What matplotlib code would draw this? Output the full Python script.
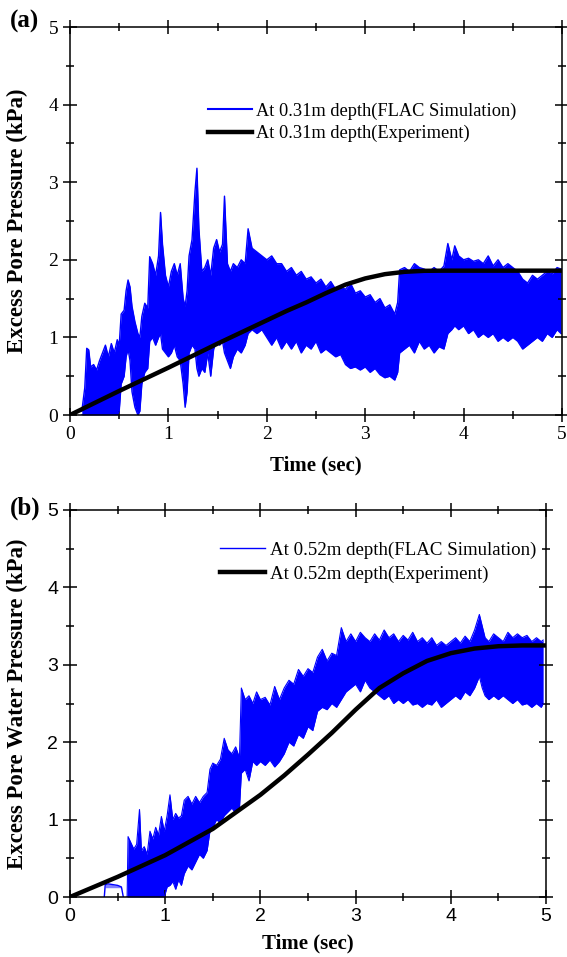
import matplotlib
matplotlib.use("Agg")
import matplotlib.pyplot as plt
from matplotlib.ticker import MultipleLocator

# ---------------- Panel (a) data ----------------
exp_a_t = [0, 0.5, 1, 1.5, 2, 2.2, 2.4, 2.6, 2.8, 3.0, 3.2, 3.4, 3.6, 3.8, 4, 5]
exp_a_v = [0, 0.31, 0.61, 0.92, 1.22, 1.34, 1.45, 1.57, 1.68, 1.76, 1.815, 1.845, 1.858, 1.86, 1.86, 1.86]

sim_a_t = [0.12, 0.15, 0.17, 0.19, 0.21, 0.24, 0.27, 0.30, 0.33, 0.36, 0.39, 0.42, 0.45, 0.48,
           0.50, 0.52, 0.55, 0.57, 0.59, 0.61, 0.63, 0.66, 0.69, 0.71, 0.73, 0.76, 0.79, 0.81,
           0.84, 0.87, 0.90, 0.92, 0.94, 0.97, 1.00, 1.03, 1.06, 1.09, 1.12, 1.15, 1.17, 1.19,
           1.21, 1.24, 1.27, 1.29, 1.31, 1.34, 1.37, 1.40, 1.43, 1.46, 1.49, 1.52, 1.55, 1.57,
           1.60, 1.63, 1.66, 1.70, 1.74, 1.78, 1.81, 1.85, 1.90, 1.95, 2.00, 2.05, 2.10, 2.15,
           2.20, 2.25, 2.30, 2.35, 2.40, 2.45, 2.50, 2.55, 2.60, 2.65, 2.70, 2.75, 2.80, 2.85,
           2.90, 2.95, 3.00, 3.05, 3.10, 3.15, 3.20, 3.25, 3.30, 3.33, 3.35, 3.40, 3.45, 3.50,
           3.55, 3.60, 3.65, 3.70, 3.75, 3.80, 3.84, 3.88, 3.91, 3.95, 4.00, 4.05, 4.10, 4.15,
           4.20, 4.25, 4.30, 4.35, 4.40, 4.45, 4.50, 4.55, 4.60, 4.65, 4.70, 4.75, 4.80, 4.85,
           4.90, 4.95, 4.99]
sim_a_lo = [0, 0, 0, 0, 0, 0, 0, 0, 0, 0, 0, 0, 0, 0,
            0.05, 0.40, 0.50, 0.75, 0.85, 0.70, 0.30, 0.10, 0.0, 0.05, 0.40, 0.55, 0.60, 0.95,
            1.00, 0.90, 1.00, 1.05, 0.85, 0.80, 0.75, 0.80, 0.90, 0.75, 0.70, 0.40, 0.10, 0.30,
            0.80, 0.90, 0.85, 0.60, 0.50, 0.60, 0.55, 0.80, 0.50, 0.85, 0.95, 0.90, 0.95, 0.80,
            0.70, 0.60, 0.75, 0.85, 0.80, 0.90, 1.05, 1.10, 1.05, 1.10, 1.00, 0.90, 1.00, 0.85,
            0.95, 0.85, 0.95, 0.80, 0.90, 0.85, 0.95, 0.80, 0.85, 0.80, 0.75, 0.78, 0.65, 0.60,
            0.62, 0.58, 0.62, 0.55, 0.60, 0.52, 0.48, 0.50, 0.45, 0.55, 0.80, 0.85, 0.90, 0.80,
            0.95, 0.85, 0.90, 0.80, 0.88, 0.85, 1.05, 1.10, 1.15, 1.10, 1.15, 1.05, 1.10, 1.00,
            1.05, 1.00, 1.05, 0.95, 1.00, 0.95, 1.00, 0.95, 0.85, 0.90, 0.95, 1.00, 0.95, 1.05,
            1.00, 1.10, 1.05]
sim_a_hi = [0.05, 0.35, 0.86, 0.84, 0.62, 0.65, 0.58, 0.70, 0.80, 0.90, 0.75, 0.92, 0.80, 0.97,
            0.90, 1.30, 1.35, 1.60, 1.74, 1.65, 1.40, 1.20, 1.05, 1.00, 1.27, 1.44, 1.38, 2.04,
            1.95, 1.80, 2.05, 2.61, 2.20, 1.80, 1.65, 1.85, 1.95, 1.80, 1.95, 1.50, 1.40, 1.60,
            2.05, 2.26, 2.88, 3.18, 2.40, 1.85, 1.90, 2.00, 1.80, 2.15, 2.26, 2.10, 2.20, 2.82,
            1.95, 1.85, 1.95, 1.90, 2.00, 1.95, 2.40, 2.15, 2.10, 2.05, 2.00, 2.05, 1.95, 1.95,
            1.85, 1.90, 1.80, 1.85, 1.75, 1.78, 1.70, 1.75, 1.65, 1.72, 1.62, 1.65, 1.62, 1.70,
            1.57, 1.60, 1.52, 1.55, 1.45, 1.50, 1.38, 1.42, 1.30, 1.45, 1.87, 1.90, 1.85, 1.95,
            1.90, 1.88, 1.85, 1.90, 1.85, 1.92, 2.21, 2.00, 2.18, 2.05, 2.00, 2.02, 1.98, 2.00,
            1.95, 2.05, 1.92, 2.00, 1.90, 1.95, 1.90, 1.85, 1.75, 1.70, 1.80, 1.75, 1.80, 1.85,
            1.82, 1.90, 1.88]

# ---------------- Panel (b) data ----------------
exp_b_t = [0, 0.5, 1, 1.5, 2, 2.25, 2.5, 2.75, 3, 3.25, 3.5, 3.75, 4, 4.25, 4.5, 4.75, 5]
exp_b_v = [0, 0.26, 0.54, 0.88, 1.32, 1.57, 1.84, 2.12, 2.42, 2.70, 2.89, 3.05, 3.15, 3.21, 3.24, 3.25, 3.25]

hump_b_t = [0.36, 0.37, 0.40, 0.45, 0.50, 0.54, 0.56]
hump_b_v = [0, 0.16, 0.17, 0.16, 0.15, 0.13, 0]

sim_b_t = [0.60, 0.61, 0.64, 0.67, 0.70, 0.73, 0.75, 0.78, 0.81, 0.84, 0.87, 0.90, 0.93, 0.96,
           0.99, 1.02, 1.05, 1.08, 1.11, 1.14, 1.17, 1.20, 1.24, 1.28, 1.32, 1.36, 1.40, 1.44,
           1.47, 1.50, 1.54, 1.58, 1.62, 1.66, 1.70, 1.74, 1.78, 1.80, 1.84, 1.88, 1.92, 1.96,
           2.00, 2.05, 2.10, 2.15, 2.20, 2.25, 2.30, 2.35, 2.40, 2.45, 2.50, 2.55, 2.60, 2.65,
           2.70, 2.75, 2.80, 2.85, 2.90, 2.95, 3.00, 3.05, 3.10, 3.15, 3.20, 3.25, 3.30, 3.35,
           3.40, 3.45, 3.50, 3.55, 3.60, 3.65, 3.70, 3.75, 3.80, 3.85, 3.90, 3.95, 4.00, 4.05,
           4.10, 4.15, 4.20, 4.25, 4.30, 4.33, 4.36, 4.40, 4.45, 4.50, 4.55, 4.60, 4.65, 4.70,
           4.75, 4.80, 4.85, 4.90, 4.95, 4.97]
sim_b_lo = [0, 0, 0, 0, 0, 0, 0, 0, 0, 0, 0, 0, 0, 0,
            0, 0.13, 0.15, 0.20, 0.10, 0.22, 0.15, 0.30, 0.40, 0.35, 0.45, 0.55, 0.50, 0.60,
            0.85, 0.90, 1.00, 0.95, 1.05, 1.10, 1.15, 1.08, 1.15, 1.60, 1.65, 1.50, 1.75, 1.70,
            1.75, 1.70, 1.77, 1.68, 1.75, 1.85, 2.00, 1.95, 2.10, 2.05, 2.20, 2.15, 2.40, 2.45,
            2.42, 2.50, 2.45, 2.55, 2.65, 2.70, 2.75, 2.65, 2.80, 2.70, 2.65, 2.60, 2.55, 2.60,
            2.50, 2.55, 2.50, 2.55, 2.48, 2.50, 2.45, 2.50, 2.48, 2.55, 2.45, 2.50, 2.55, 2.60,
            2.55, 2.65, 2.60, 2.70, 2.85, 2.70, 2.60, 2.55, 2.60, 2.55, 2.60, 2.55, 2.50, 2.55,
            2.48, 2.50, 2.45, 2.50, 2.45, 2.50]
sim_b_hi = [0.0, 0.78, 0.70, 0.62, 0.68, 1.13, 0.60, 0.65, 0.55, 0.85, 0.75, 0.90, 0.80, 1.04,
            0.85, 1.05, 1.32, 1.00, 1.08, 1.02, 1.05, 1.25, 1.30, 1.20, 1.30, 1.22, 1.30, 1.35,
            1.65, 1.73, 1.70, 1.78, 2.05, 1.90, 1.85, 1.94, 1.80, 2.70, 2.55, 2.60, 2.50, 2.65,
            2.55, 2.58, 2.48, 2.72, 2.55, 2.70, 2.80, 2.75, 2.94, 2.85, 2.95, 2.90, 3.10, 3.20,
            3.05, 3.15, 3.12, 3.48, 3.30, 3.40, 3.30, 3.42, 3.35, 3.30, 3.40, 3.32, 3.45, 3.35,
            3.40, 3.30, 3.38, 3.32, 3.42, 3.30, 3.35, 3.28, 3.35, 3.25, 3.30, 3.25, 3.30, 3.35,
            3.28, 3.37, 3.30, 3.45, 3.65, 3.50, 3.35, 3.30, 3.40, 3.35, 3.30, 3.42, 3.35, 3.40,
            3.35, 3.38, 3.30, 3.35, 3.30, 3.32]

xticks = [0, 1, 2, 3, 4, 5]
yticks = [0, 1, 2, 3, 4, 5]

SERIF = ["Liberation Serif", "DejaVu Serif"]
SANS = ["Liberation Sans", "DejaVu Sans"]
BLUE = "#0000ff"

fig = plt.figure(figsize=(5.67, 9.57), dpi=100)
W, H = 567, 957


def make_axes(l, r, t, b):
    return fig.add_axes([l / W, 1 - b / H, (r - l) / W, (b - t) / H])


def style(ax, tickfamily):
    ax.set_xlim(0, 5)
    ax.set_ylim(0, 5)
    ax.set_xticks(xticks)
    ax.set_yticks(yticks)
    ax.xaxis.set_minor_locator(MultipleLocator(0.5))
    ax.yaxis.set_minor_locator(MultipleLocator(0.5))
    ax.tick_params(which="both", direction="inout", top=True, right=True,
                   width=1.1, colors="black")
    ax.tick_params(which="major", length=10)
    ax.tick_params(which="minor", length=5.5)
    ax.tick_params(axis="x", which="major", pad=3)
    for lab in ax.get_xticklabels() + ax.get_yticklabels():
        lab.set_fontfamily(tickfamily)
        lab.set_fontsize(14)
    for s in ax.spines.values():
        s.set_linewidth(1.1)


# ---------------- Panel (a) ----------------
ax1 = make_axes(70, 562, 27, 415)
ax1.fill_between(sim_a_t, sim_a_lo, sim_a_hi, color=BLUE, lw=0)
ax1.plot(sim_a_t, sim_a_hi, color=BLUE, lw=1.0)
ax1.plot(sim_a_t, sim_a_lo, color=BLUE, lw=1.0)
l1, = ax1.plot([], [], color=BLUE, lw=1.5, label="At 0.31m depth(FLAC Simulation)")
l2, = ax1.plot(exp_a_t, exp_a_v, color="black", lw=3.2, label="At 0.31m depth(Experiment)")
style(ax1, SERIF)
ax1.legend(handles=[l1, l2], loc="upper left", bbox_to_anchor=(0.2805, 0.805),
           frameon=False, borderpad=0, borderaxespad=0, handlelength=2.4,
           handletextpad=0.2, labelspacing=0.28,
           prop={"family": SERIF, "size": 13.2})
ax1.set_xlabel("Time (sec)", fontfamily=SERIF, fontweight="bold", fontsize=15)
ax1.xaxis.set_label_coords(0.5, -0.105)
ax1.set_ylabel("Excess Pore Pressure (kPa)", fontfamily=SERIF, fontweight="bold", fontsize=16.5)
ax1.yaxis.set_label_coords(-0.085, 0.5)
fig.text(10 / W, 1 - 21 / H, "(a)", fontfamily=SERIF, fontweight="bold", fontsize=18,
         va="center", ha="left")

# ---------------- Panel (b) ----------------
ax2 = make_axes(70, 546, 510, 897)
ax2.fill_between(sim_b_t, sim_b_lo, sim_b_hi, color=BLUE, lw=0)
ax2.plot(sim_b_t, sim_b_hi, color=BLUE, lw=0.8)
ax2.plot(sim_b_t, sim_b_lo, color=BLUE, lw=0.8)
ax2.fill_between(hump_b_t, [min(v, 0.12) for v in hump_b_v], hump_b_v, color=BLUE, lw=0, alpha=0.5)
ax2.plot(hump_b_t, hump_b_v, color=BLUE, lw=1.0)
m1, = ax2.plot([], [], color=BLUE, lw=1.0, label="At 0.52m depth(FLAC Simulation)")
m2, = ax2.plot(exp_b_t, exp_b_v, color="black", lw=3.2, label="At 0.52m depth(Experiment)")
style(ax2, SANS)
ax2.legend(handles=[m1, m2], loc="upper left", bbox_to_anchor=(0.315, 0.918),
           frameon=False, borderpad=0, borderaxespad=0, handlelength=2.4,
           handletextpad=0.25, labelspacing=0.36,
           prop={"family": SERIF, "size": 13.6})
ax2.set_xlabel("Time (sec)", fontfamily=SERIF, fontweight="bold", fontsize=15)
ax2.xaxis.set_label_coords(0.5, -0.095)
ax2.set_ylabel("Excess Pore Water Pressure (kPa)", fontfamily=SERIF, fontweight="bold",
               fontsize=16.5)
ax2.yaxis.set_label_coords(-0.088, 0.5)
fig.text(10 / W, 1 - 508 / H, "(b)", fontfamily=SERIF, fontweight="bold", fontsize=18,
         va="center", ha="left")

fig.savefig("out.png", dpi=100)
